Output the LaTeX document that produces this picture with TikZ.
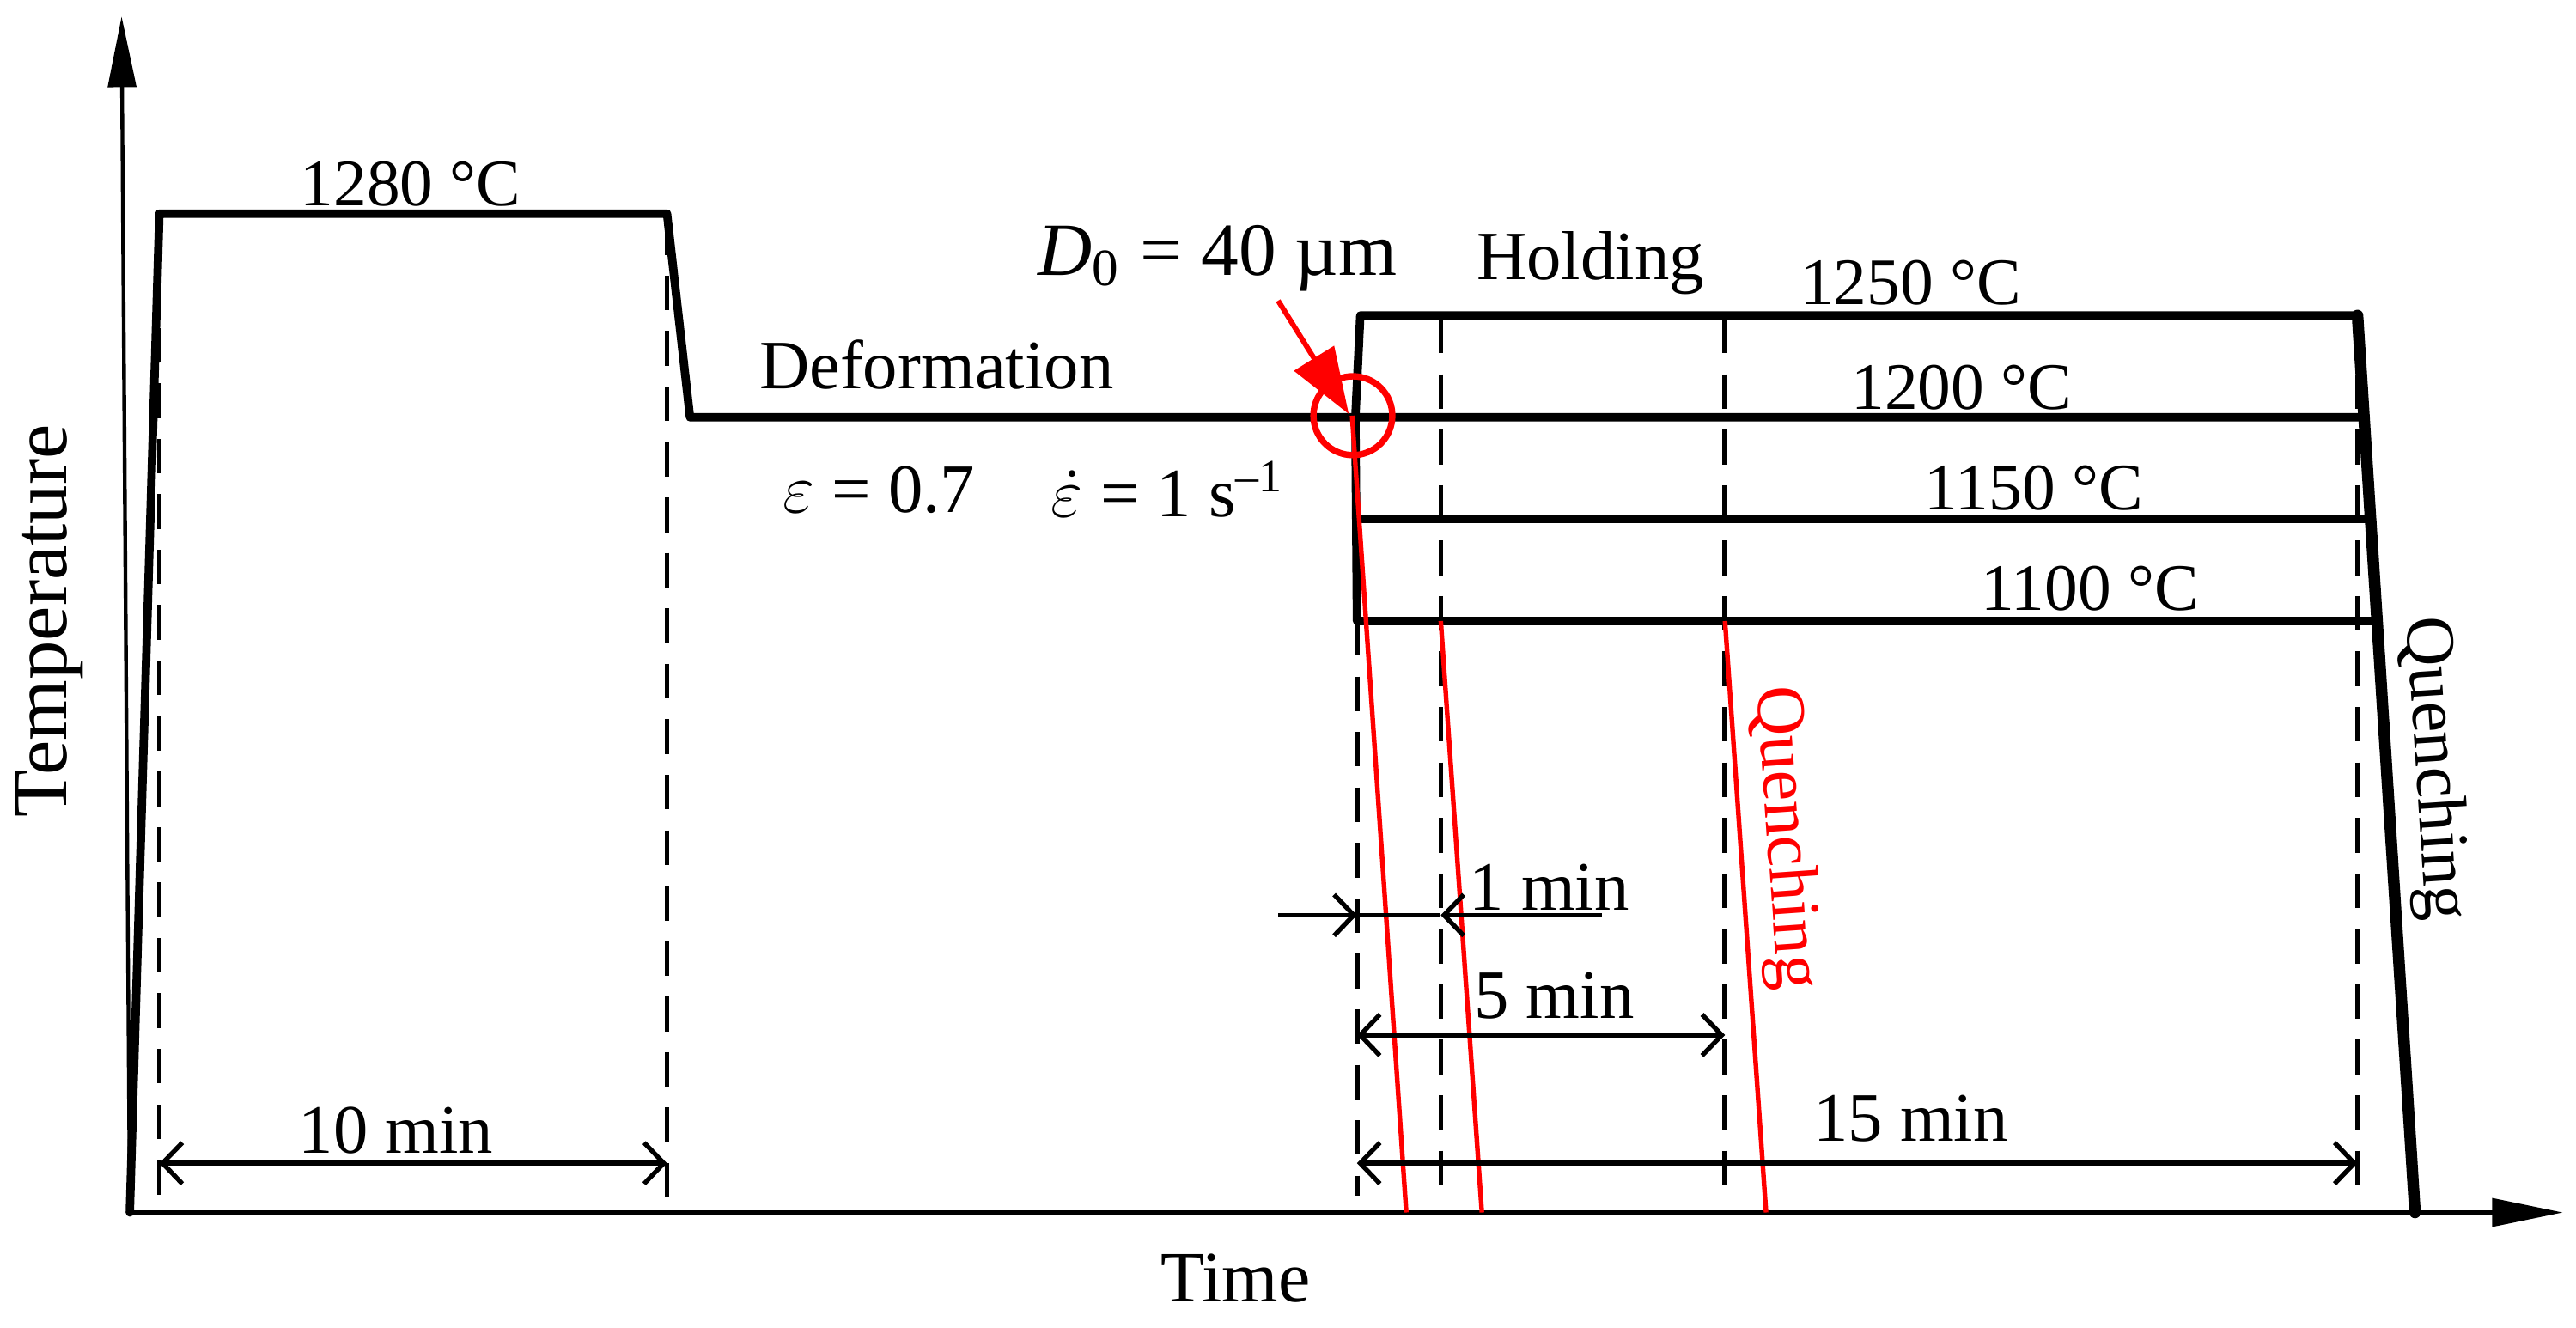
\documentclass[tikz,border=0pt]{standalone}
\usepackage{fontspec}
\setmainfont{Liberation Serif}
\usetikzlibrary{arrows.meta}
\begin{document}
\begin{tikzpicture}[x=0.01cm,y=-0.01cm,
  prof/.style={line width=1.45pt, line join=round, line cap=round},
  quench/.style={line width=2pt, line cap=round},
  axisline/.style={line width=0.65pt},
  dashv/.style={line width=0.85pt, dash pattern=on 6pt off 3.6pt},
  barb/.tip={Straight Barb[length=1.2mm,width=2.5mm]},
  dimline/.style={line width=0.8pt},
  redl/.style={red, line width=0.8pt},
  lab/.style={inner sep=0pt, font=\fontsize{12}{14}\selectfont},
  numlab/.style={inner sep=0pt, font=\fontsize{11.5}{13}\selectfont},
]
\useasboundingbox (0,0) rectangle (1568,808);

% coordinates
\coordinate (O) at (79,738);
\coordinate (ytip) at (74,10);
\coordinate (xtip) at (1560,738);

% dashed guide lines
\draw[dashv] (97,132) -- (97,738);
\draw[dashv] (406,134) -- (406,738);
\draw[dashv] (826,378) -- (826,728);
\draw[dashv] (877,194) -- (877,728);
\draw[dashv] (1050,194) -- (1050,728);
\draw[dashv] (1435,194) -- (1435,728);

% axes
\draw[axisline,-{Triangle[length=4.3mm,width=1.7mm]}] (O) -- (ytip);
\draw[axisline,-{Triangle[length=4.3mm,width=1.7mm]}] (O) -- (xtip);

% temperature profile
\coordinate (a1) at (97,130);
\coordinate (a2) at (406,130);
\coordinate (a3) at (420,254);
\coordinate (b0) at (825,254);
\coordinate (b1) at (828,192);
\coordinate (b2) at (1435,192);
\coordinate (q) at (1470,738);
\draw[prof] (O) -- (a1) -- (a2) -- (a3) -- (1439,254);
\draw[prof] (b0) -- (b1) -- (b2);
\draw[quench] (b2) -- (q);
\draw[prof] (b0) -- (826,378) -- (1447,378);
\draw[prof] (826,316) -- (1443,316);

% red quench lines
\draw[redl] (823,253) -- (856,738);
\draw[redl] (877,378) -- (902,738);
\draw[redl] (1050,378) -- (1075,738);

% red marker
\draw[red, line width=1.1pt] (823.5,253) circle [radius=24];
\draw[red, line width=0.9pt, -{Triangle[length=4mm,width=2.8mm]}] (778,183) -- (821,252);

% dimension lines
\draw[dimline, {barb}-{barb}] (97,708) -- (406,708);
\draw[dimline, {barb}-{barb}] (826,708) -- (1435,708);
\draw[dimline, {barb}-{barb}] (826,630) -- (1050,630);
\draw[dimline, -{barb}] (778,557) -- (826,557);
\draw[dimline] (826,557) -- (877,557);
\draw[dimline, {barb}-] (877,557) -- (975,557);

% labels
\node[numlab] (t1280) at (250,112) {1280 °C};
\node[lab] (tdef) at (570,222) {Deformation};
\node[lab] (teps) at (535,298) {$\varepsilon$ = 0.7};
\node[lab] (tepsdot) at (711,298) {$\dot{\varepsilon}$ = 1 s\textsuperscript{–1}};
\node[inner sep=0pt, font=\fontsize{13}{15}\selectfont] (tD) at (741,157) {\textit{D}\textsubscript{0} = 40 µm};
\node[lab] (thold) at (968,160) {Holding};
\node[numlab] (t1250) at (1163,172) {1250 °C};
\node[numlab] (t1200) at (1194,236) {1200 °C};
\node[numlab] (t1150) at (1238,297) {1150 °C};
\node[numlab] (t1100) at (1272,358) {1100 °C};
\node[lab] (t1m) at (943,540) {1 min};
\node[lab] (t5m) at (946,606) {5 min};
\node[lab] (t10m) at (241,688) {10 min};
\node[lab] (t15m) at (1163,681) {15 min};
\node[lab, font=\fontsize{13.5}{15}\selectfont, rotate=90] (ttemp) at (30,378) {Temperature};
\node[lab, font=\fontsize{12.5}{15}\selectfont] (ttime) at (752,778) {Time};
\node[lab, rotate=-86.3] (tq1) at (1481,468) {Quenching};
\node[lab, red, rotate=-86] (tq2) at (1086,510) {Quenching};
\end{tikzpicture}
\end{document}
